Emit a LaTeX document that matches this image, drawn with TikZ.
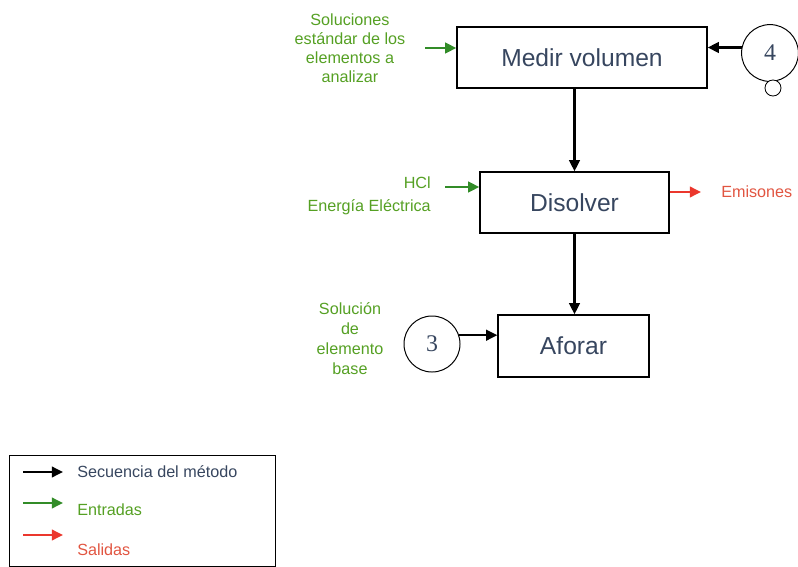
\documentclass[tikz,border=0pt]{standalone}
\usepackage{fontspec}
\setmainfont{Liberation Sans}
\newfontfamily\numfont{Liberation Serif}
\usepackage{tikz}
\usetikzlibrary{positioning, arrows.meta}

\definecolor{boxtext}{RGB}{55,70,95}
\definecolor{lblgreen}{RGB}{85,160,35}
\definecolor{arrgreen}{RGB}{50,140,40}
\definecolor{arrred}{RGB}{235,55,45}
\definecolor{lblred}{RGB}{225,85,65}

\begin{document}
\begin{tikzpicture}[x=0.025cm, y=-0.025cm,
  proc/.style={draw, line width=0.9pt, minimum height=1.525cm,
      font=\fontsize{17.5}{20}\selectfont, text=boxtext},
  conn/.style={draw, circle, line width=0.7pt, minimum size=1.42cm,
      font=\numfont\fontsize{17}{20}\selectfont, text=boxtext},
  lbl/.style={font=\fontsize{11.5}{13.5}\selectfont, text=lblgreen, inner sep=0pt},
  seq/.style={line width=1.8pt, -{Triangle[length=8pt,width=7.5pt]}},
  ent/.style={line width=1.8pt, arrgreen, -{Triangle[length=8pt,width=7.5pt]}},
  sal/.style={line width=1.8pt, arrred, -{Triangle[length=8pt,width=7.5pt]}}]
\useasboundingbox (0,0) rectangle (798,567);

% process boxes
\node[proc, minimum width=6.25cm] (medir) at (582,57.5) {Medir volumen};
\node[proc, minimum width=4.725cm] (disolver) at (574.5,202.5) {Disolver};
\node[proc, minimum width=3.775cm, minimum height=1.55cm] (aforar) at (573.5,346) {Aforar};

% connectors to other pages
\node[conn] (cuatro) at (770,53) {4};
\node[draw, circle, line width=0.6pt, minimum size=0.4cm, fill=white] (cuatrob) at (773,88) {};
\node[conn, minimum size=1.4cm] (tres) at (432,344) {3};

% inputs
\node[lbl, align=center] (sol) at (350,48)
      {Soluciones\\estándar de los\\elementos a\\analizar};
\node[lbl, align=right, anchor=east, font=\fontsize{11.5}{16.5}\selectfont] (hcl) at (431,196)
      {HCl\\Energía Eléctrica};
\node[lbl, align=center, font=\fontsize{11.5}{14.2}\selectfont] (solbase) at (350,339)
      {Solución\\de\\elemento\\base};

% outputs
\node[lbl, anchor=west, text=lblred] (emis) at (721,192) {Emisones};

% method sequence
\draw[seq] (disolver.north |- medir.south) -- (disolver.north);
\draw[seq] (disolver.south) -- (disolver.south |- aforar.north);
\draw[seq] (cuatro.169) -- (cuatro.169 -| medir.east);
\draw[seq] (tres.18) -- (tres.18 -| aforar.west);

\coordinate (e1) at (425,48);
\coordinate (e2) at (445,187);
\coordinate (s1) at (701,192);
\draw[ent] (e1) -- (e1 -| medir.west);
\draw[ent] (e2) -- (e2 -| disolver.west);
\draw[sal] (s1 -| disolver.east) -- (s1);

% legend
\node[draw, line width=0.8pt, anchor=north west, minimum width=6.65cm,
      minimum height=2.775cm] (leyenda) at (9,455) {};
\coordinate (l1a) at (23,472);
\coordinate (l1b) at (63,472);
\coordinate (l2a) at (23,503);
\coordinate (l2b) at (63,503);
\coordinate (l3a) at (23,535);
\coordinate (l3b) at (63,535);
\draw[seq] (l1a) -- (l1b);
\draw[ent] (l2a) -- (l2b);
\draw[sal] (l3a) -- (l3b);
\node[lbl, anchor=west, text=boxtext] (lsec) at (77,472) {Secuencia del método};
\node[lbl, anchor=west] (lent) at (77,510) {Entradas};
\node[lbl, anchor=west, text=lblred] (lsal) at (77,550) {Salidas};
\end{tikzpicture}
\end{document}
